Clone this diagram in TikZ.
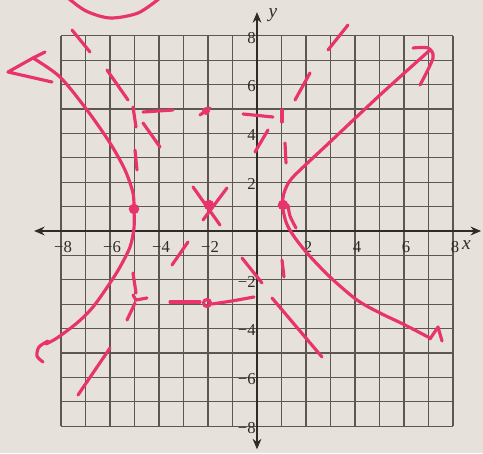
\documentclass[tikz,border=0pt]{standalone}
\usepackage{fontspec}
\setmainfont{Liberation Serif}
\usetikzlibrary{arrows.meta}
\definecolor{paper}{HTML}{E6E2DB}
\definecolor{gridc}{HTML}{5E5750}
\definecolor{ink}{HTML}{2E2B28}
\definecolor{penc}{HTML}{E8336C}
\begin{document}
\begin{tikzpicture}[x=0.02cm,y=-0.02cm,
  gridline/.style={gridc,line width=0.65pt},
  axisline/.style={ink,line width=0.9pt,{Stealth[length=6pt,width=5pt]}-{Stealth[length=6pt,width=5pt]}},
  ticklab/.style={font=\fontsize{9.5}{10}\selectfont,text=ink,inner sep=0pt},
  axlab/.style={font=\fontsize{11}{12}\selectfont\itshape,text=ink,inner sep=0pt},
  pen/.style={penc,line width=1.8pt,line cap=round,line join=round},
  pendot/.style={circle,fill=penc,inner sep=0pt,minimum size=6pt},
  smalldot/.style={circle,fill=penc,inner sep=0pt,minimum size=4.5pt}]
\fill[paper] (0,0) rectangle (483,453);
\useasboundingbox (0,0) rectangle (483,453);
% ---------- graph paper ----------
\begin{scope}[shift={(257,231)},x=0.49cm,y=0.488cm]
  \foreach \k in {-8,...,8}{
    \draw[gridline] (\k,-8) -- (\k,8);
    \draw[gridline] (-8,\k) -- (8,\k);
  }
  \coordinate (xl) at (-9.1,0);
  \coordinate (xr) at (9.15,0);
  \coordinate (yb) at (0,-8.95);
  \coordinate (yt) at (0,8.97);
  \draw[axisline] (xl) -- (xr);
  \draw[axisline] (yb) -- (yt);
  \foreach \v/\t in {-8/−8,-6/−6,-4/−4,-2/−2,2/2,4/4,6/6,8/8}{
    \node[ticklab] (tx\v) at (\v+0.08,-0.65) {\t};
    \node[ticklab,anchor=east] (ty\v) at (-0.04,\v-0.07) {\t};
  }
  \node[axlab] (ylab) at (0.65,8.85) {y};
  \node[axlab] (xlab) at (8.55,-0.57) {x};
\end{scope}
% ---------- pink pen work ----------
% circle fragment at top
\draw[pen] plot[smooth] coordinates {(68,-2) (86,11) (110,18) (138,13) (160,-2)};
% left branch, upper half with hand-drawn arrow
\draw[pen] plot[smooth] coordinates {(33,58) (60,77) (87,110) (110,143) (125,170) (133,193) (134,209)};
\draw[pen] (45,52) -- (33,58) -- (8,72) -- (52,82);
% left branch, lower half with hook
\draw[pen] plot[smooth] coordinates {(134,209) (134,228) (130,247) (120,267) (110,283) (93,307) (77,323) (57,338) (46,344)};
\draw[pen] plot[smooth] coordinates {(48,341) (39,347) (37,356) (43,362)};
% right branch, upper half with arrow
\draw[pen] plot[smooth] coordinates {(282,205) (284,193) (289,182) (298,172) (330,142) (380,95) (430,50)};
\draw[pen] plot[smooth] coordinates {(413,48) (428,48) (433,58) (420,85)};
% right branch, lower half with arrow
\draw[pen] plot[smooth] coordinates {(282,205) (286,222) (293,235) (307,253) (330,277) (357,300) (380,313) (403,324) (430,338)};
\draw[pen] (430,339) -- (438,327) -- (442,341);
\draw[pen] plot[smooth] coordinates {(288,205) (290,216) (296,228)};
% vertices and centre
\node[pendot] (v1) at (134,209) {};
\node[pendot] (v2) at (283,205) {};
\node[pendot] (ctr) at (209,205) {};
% dashed box (-5,-3) to (1,5)
\draw[pen] (133,107) -- (136,127);
\draw[pen] (143,112) -- (173,110);
\node[smalldot] (bt) at (206,111) {};
\draw[pen] (200,115) -- (210,108);
\draw[pen] (243,114) -- (273,117);
\draw[pen] (282,110) -- (282,122);
\draw[pen] (285,143) -- (286,163);
\draw[pen] (135,150) -- (137,170);
\draw[pen] (133,273) -- (136,293);
\draw[pen] (133,295) -- (136,300) -- (147,298);
\draw[pen] (170,302) -- (200,302);
\draw[pen] (207,303) circle (3.5);
\draw[pen] (212,304) -- (232,301) -- (254,297);
\draw[pen] (282,260) -- (284,277);
% asymptote dashes, slope +4/3
\draw[pen] (78,395) -- (110,348);
\draw[pen] (127,320) -- (135,303);
\draw[pen] (172,265) -- (188,242);
\draw[pen] (227,188) -- (203,220);
\draw[pen] (255,152) -- (268,130);
\draw[pen] (295,100) -- (310,73);
\draw[pen] (328,50) -- (348,25);
% asymptote dashes, slope -4/3
\draw[pen] (72,30) -- (90,52);
\draw[pen] (107,70) -- (128,100);
\draw[pen] (143,123) -- (160,147);
\draw[pen] (193,187) -- (220,225);
\draw[pen] (242,258) -- (262,283);
\draw[pen] (272,298) -- (322,357);
\end{tikzpicture}
\end{document}
